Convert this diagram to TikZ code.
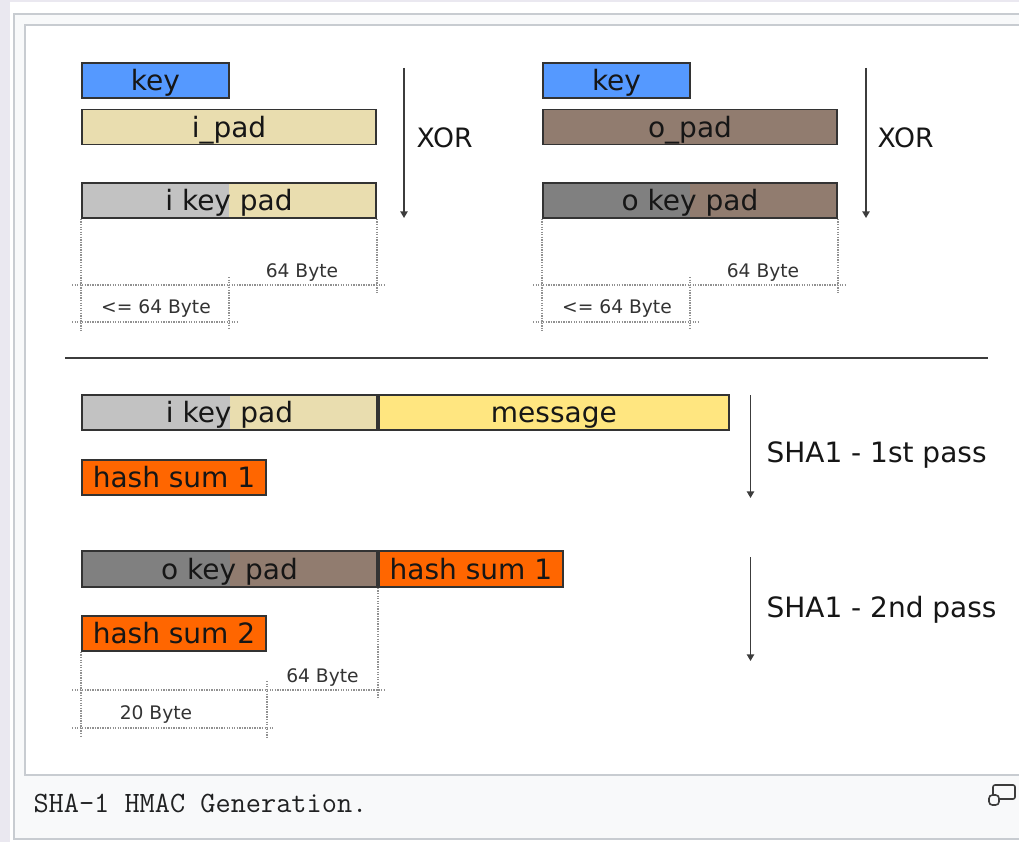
\documentclass[tikz,border=0pt]{standalone}
\usepackage{fontspec}
\setmainfont{DejaVu Sans}
\usetikzlibrary{arrows.meta}

\definecolor{pagebg}{RGB}{234,232,240}
\definecolor{panelbg}{RGB}{248,249,250}
\definecolor{frameline}{RGB}{200,204,209}
\definecolor{keyblue}{RGB}{85,153,255}
\definecolor{padbeige}{RGB}{233,221,175}
\definecolor{padbrown}{RGB}{145,124,111}
\definecolor{lightgrey}{RGB}{194,194,194}
\definecolor{darkgrey}{RGB}{128,128,128}
\definecolor{msgyellow}{RGB}{255,230,128}
\definecolor{hashorange}{RGB}{255,102,0}
\definecolor{boxline}{RGB}{51,51,51}
\definecolor{flowline}{RGB}{60,60,60}
\definecolor{dimline}{RGB}{145,145,145}
\definecolor{labeltext}{RGB}{22,22,22}
\definecolor{captext}{RGB}{32,33,34}

\tikzset{every picture/.style={line width=0.75pt}}
\tikzset{
	field/.style={draw=boxline, line width=1.4pt, inner sep=0pt, minimum height=26.25pt, text=labeltext, font=\fontsize{21}{21}\selectfont, text height=15pt, text depth=0pt},
	halfbox/.style 2 args={field, fill=#2, path picture={\fill[#1] (path picture bounding box.south west) rectangle (path picture bounding box.north);}},
	flow/.style={draw=flowline, line width=1.1pt, -{Triangle[length=5pt,width=5.5pt]}},
	dim/.style={draw=dimline, line width=1.1pt, dash pattern=on 1pt off 0.9pt},
	bytes/.style={anchor=base, font=\fontsize{14}{14}\selectfont, text=boxline},
	passlabel/.style={anchor=base west, inner sep=0pt, font=\fontsize{21}{21}\selectfont, text=labeltext}
}

\begin{document}
\begin{tikzpicture}[x=0.75pt,y=0.75pt,yscale=-1,xscale=1]
	\useasboundingbox (0,0) rectangle (1019,842);
	\clip (0,0) rectangle (1019,842);

	%Page and thumbnail frame
	\fill[pagebg] (0,0) rectangle (1019,842);
	\fill[white] (10,2) rectangle (1019,842);
	\draw[draw=frameline, fill=panelbg, line width=1.5pt] (14,14) rectangle (1040,839);
	\draw[draw=frameline, fill=white, line width=1.5pt] (25,25) rectangle (1040,775);

	%Inner key pad
	\node[field, fill=keyblue, minimum width=110.25pt] (keyI) at (155.5,80.5) {key};
	\node[field, fill=padbeige, minimum width=220.5pt] (ipad) at (229,127) {i\_pad};
	\node[halfbox={lightgrey}{padbeige}, minimum width=220.5pt] (ikeypadI) at (229,200.5) {i key pad};
	\coordinate (xorItop) at (404,68);
	\coordinate (xorIbot) at (404,218);
	\draw[flow] (xorItop) -- (xorIbot);
	\node[passlabel, font=\fontsize{20}{20}\selectfont] (xorI) at (416,147) {XOR};

	%Outer key pad
	\node[field, fill=keyblue, minimum width=110.25pt] (keyO) at (616.5,80.5) {key};
	\node[field, fill=padbrown, minimum width=220.5pt] (opad) at (690,127) {o\_pad};
	\node[halfbox={darkgrey}{padbrown}, minimum width=220.5pt] (okeypadI) at (690,200.5) {o key pad};
	\coordinate (xorOtop) at (866,68);
	\coordinate (xorObot) at (866,218);
	\draw[flow] (xorOtop) -- (xorObot);
	\node[passlabel, font=\fontsize{20}{20}\selectfont] (xorO) at (877,147) {XOR};

	%Lengths, upper half
	\draw[dim] (ikeypadI.south west) -- ++(0,112);
	\draw[dim] (ikeypadI.south east) -- ++(0,74);
	\draw[dim] (72,285) -- (385,285);
	\draw[dim] (229,277) -- (229,330);
	\draw[dim] (72,322) -- (238,322);
	\node[bytes] (padlenI) at (302,277) {64 Byte};
	\node[bytes] (keylenI) at (156,313) {<= 64 Byte};

	\draw[dim] (okeypadI.south west) -- ++(0,112);
	\draw[dim] (okeypadI.south east) -- ++(0,74);
	\draw[dim] (533,285) -- (846,285);
	\draw[dim] (690,277) -- (690,330);
	\draw[dim] (533,322) -- (699,322);
	\node[bytes] (padlenO) at (763,277) {64 Byte};
	\node[bytes] (keylenO) at (617,313) {<= 64 Byte};

	%Separator
	\draw[draw=flowline, line width=1.5pt] (65,358) -- (988,358);

	%First pass
	\node[halfbox={lightgrey}{padbeige}, minimum width=221.25pt] (ikeypadB) at (229.5,412.5) {i key pad};
	\node[field, fill=msgyellow, minimum width=262.5pt, anchor=west] (message) at (ikeypadB.east) {message};
	\node[field, fill=hashorange, minimum width=138pt] (hashI) at (174,477.5) {hash sum 1};
	\coordinate (passItop) at (750.5,395);
	\coordinate (passIbot) at (750.5,498);
	\draw[flow] (passItop) -- (passIbot);
	\node[passlabel] (passI) at (766,462) {SHA1 - 1st pass};

	%Second pass
	\node[halfbox={darkgrey}{padbrown}, minimum width=221.25pt, minimum height=27pt] (okeypadB) at (229.5,569) {o key pad};
	\node[field, fill=hashorange, minimum width=138pt, minimum height=27pt, anchor=west] (hashIb) at (okeypadB.east) {hash sum 1};
	\node[field, fill=hashorange, minimum width=138pt] (hashII) at (174,633.5) {hash sum 2};
	\coordinate (passIItop) at (750.5,557);
	\coordinate (passIIbot) at (750.5,661);
	\draw[flow] (passIItop) -- (passIIbot);
	\node[passlabel] (passII) at (766,617) {SHA1 - 2nd pass};

	%Lengths, lower half
	\draw[dim] (okeypadB.south east) -- ++(0,110);
	\draw[dim] (hashII.south west) -- ++(0,86);
	\draw[dim] (72,690) -- (385,690);
	\draw[dim] (267,681) -- (267,737);
	\draw[dim] (72,728) -- (274,728);
	\node[bytes] (blocklen) at (322.5,682) {64 Byte};
	\node[bytes] (hashlen) at (156,719) {20 Byte};

	%Caption
	\node[anchor=base west, font=\ttfamily\fontsize{22.1}{22.1}\selectfont, text=captext, inner sep=0pt] (caption) at (33,812) {SHA-1 HMAC Generation.};
	\draw[draw=flowline, line width=1.2pt, rounded corners=1.5pt] (993,785) rectangle (1015,799);
	\draw[draw=flowline, fill=panelbg, line width=1.2pt, rounded corners=2.5pt] (989,795) rectangle (999,805);

\end{tikzpicture}
\end{document}
